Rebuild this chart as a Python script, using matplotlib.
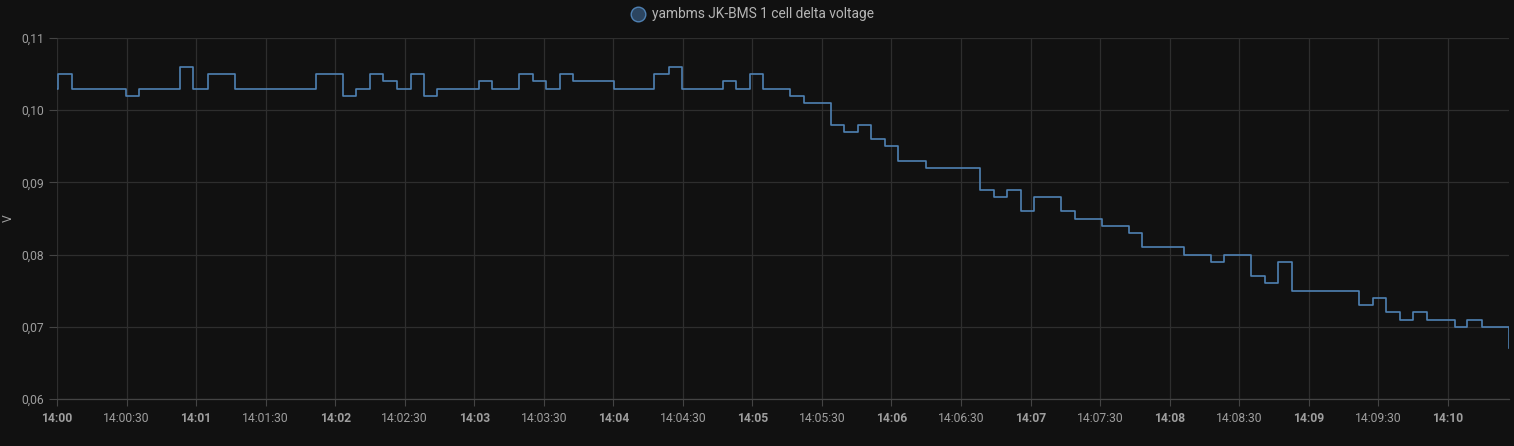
import matplotlib
matplotlib.use("Agg")
import matplotlib.pyplot as plt
from matplotlib.lines import Line2D
from matplotlib.ticker import FixedLocator, FuncFormatter

# --- data: seconds after 14:00:00 and cell delta voltage (V) ---
t_sec = [0, 0.3, 6.5, 29.8, 35.4, 53.2, 58.7, 65.0, 76.7, 111.7,
         123.4, 129.1, 135.0, 140.6, 146.8, 152.6, 158.5, 164.1, 181.9, 187.7,
         199.3, 205.2, 211.0, 217.1, 222.7, 240.4, 257.7, 263.9, 269.5, 287.2,
         292.8, 299.0, 304.6, 316.2, 322.4, 334.0, 339.6, 345.7, 351.3, 357.3,
         362.9, 374.7, 398.2, 404.1, 409.7, 415.7, 421.4, 433.1, 439.2, 450.8,
         462.6, 468.1, 486.1, 497.7, 503.3, 514.9, 521.0, 526.6, 532.7, 561.7,
         567.9, 573.3, 579.5, 585.1, 591.1, 602.9, 608.4, 614.6, 626.3]
delta_v = [0.103, 0.105, 0.103, 0.102, 0.103, 0.106, 0.103, 0.105, 0.103, 0.105,
           0.102, 0.103, 0.105, 0.104, 0.103, 0.105, 0.102, 0.103, 0.104, 0.103,
           0.105, 0.104, 0.103, 0.105, 0.104, 0.103, 0.105, 0.106, 0.103, 0.104,
           0.103, 0.105, 0.103, 0.102, 0.101, 0.098, 0.097, 0.098, 0.096, 0.095,
           0.093, 0.092, 0.089, 0.088, 0.089, 0.086, 0.088, 0.086, 0.085, 0.084,
           0.083, 0.081, 0.080, 0.079, 0.080, 0.077, 0.076, 0.079, 0.075, 0.073,
           0.074, 0.072, 0.071, 0.072, 0.071, 0.070, 0.071, 0.070, 0.067]

series_name = "yambms JK-BMS 1 cell delta voltage"
y_ticks = [0.06, 0.07, 0.08, 0.09, 0.10, 0.11]
x_ticks = list(range(0, 601, 30))
x_max = 626.4

BG = "#111111"
GRID = "#2e2e2e"
TXT = "#9e9e9e"
LINE = "#4f81b3"

plt.rcParams["font.family"] = ["Roboto", "DejaVu Sans"]

W, H = 1514, 446
fig = plt.figure(figsize=(W / 100, H / 100), dpi=100, facecolor=BG)
ax = fig.add_axes([57 / W, 1 - 399 / H, (1509 - 57) / W, (399 - 38) / H])
ax.set_facecolor(BG)

ax.plot(t_sec, delta_v, drawstyle="steps-post", color=LINE, lw=1.2)

ax.set_xlim(0, x_max)
ax.set_ylim(0.06, 0.11)

ax.yaxis.set_major_locator(FixedLocator(y_ticks))
ax.yaxis.set_major_formatter(FuncFormatter(lambda v, p: f"{v:.2f}".replace(".", ",")))


def fmt_time(s, pos):
    s = int(round(s))
    m, sec = divmod(s, 60)
    if sec == 0:
        return f"14:{m:02d}"
    return f"14:{m:02d}:{sec:02d}"


ax.xaxis.set_major_locator(FixedLocator(x_ticks))
ax.xaxis.set_major_formatter(FuncFormatter(fmt_time))

ax.grid(True, color=GRID, lw=0.9)
ax.set_axisbelow(True)
for side in ["top", "right", "left"]:
    ax.spines[side].set_visible(False)
ax.spines["bottom"].set_color("#444444")
ax.spines["bottom"].set_linewidth(0.9)

ax.tick_params(axis="y", colors=TXT, labelsize=8.7, length=6, color="#444444", pad=3)
ax.tick_params(axis="x", colors=TXT, labelsize=8.7, length=5, color="#444444", pad=4)

for lbl, v in zip(ax.get_xticklabels(), x_ticks):
    if v % 60 == 0:
        lbl.set_fontweight("bold")

# y axis name, placed by hand near the left edge
fig.text(8 / W, 1 - 218 / H, "V", color=TXT, fontsize=8.7, rotation=90,
         ha="center", va="center")

# legend at top centre
fig.add_artist(Line2D([638 / W], [1 - 14 / H], marker="o", markersize=10.5,
                      markerfacecolor="#2c4560", markeredgecolor=LINE,
                      markeredgewidth=1.0, transform=fig.transFigure))
fig.text(652 / W, 1 - 14 / H, series_name, color="#b5b5b5", fontsize=9.9,
         va="center", ha="left")

fig.savefig("out.png", dpi=100, facecolor=BG)
